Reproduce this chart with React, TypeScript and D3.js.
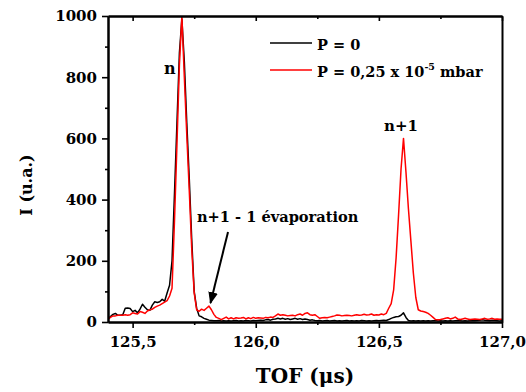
import React, { useEffect, useRef } from "react";
import * as d3 from "d3";

// TOF grid (µs), uniform sampling 125.40 .. 127.00 step 0.01
const tof: number[] = d3.range(0, 161).map((i) => +(125.4 + i * 0.01).toFixed(2));

// P = 0 (black)
const seriesP0: number[] = [
  10, 18, 25, 28, 22, 22, 24, 45, 46, 44,
  34, 38, 30, 42, 58, 48, 40, 38, 55, 66,
  64, 66, 74, 68, 95, 120, 200, 420, 650, 880,
  990, 850, 650, 470, 270, 100, 45, 20, 17, 12,
  9, 6, 5, 4, 4, 5, 3, 4, 3, 4,
  3, 4, 5, 3, 4, 3, 5, 4, 3, 5,
  4, 5, 6, 5, 7, 8, 6, 9, 10, 12,
  10, 12, 9, 11, 8, 10, 12, 9, 11, 8,
  10, 8, 6, 7, 5, 4, 5, 3, 4, 5,
  3, 4, 5, 3, 4, 3, 4, 5, 3, 4,
  3, 4, 3, 5, 4, 3, 4, 3, 4, 5,
  4, 5, 6, 5, 8, 12, 15, 17, 18, 22,
  30, 15, 5, 3, 4, 3, 4, 3, 4, 3,
  4, 3, 4, 5, 3, 4, 3, 4, 3, 4,
  3, 4, 5, 4, 3, 4, 3, 4, 5, 4,
  5, 6, 7, 6, 5, 4, 6, 5, 4, 3,
  4,
];

// P = 0,25 x 10^-5 mbar (red)
const seriesP025: number[] = [
  9, 15, 20, 20, 22, 22, 22, 24, 22, 24,
  30, 28, 26, 34, 32, 28, 36, 40, 42, 48,
  52, 55, 60, 65, 70, 85, 110, 330, 580, 840,
  1000, 800, 610, 430, 240, 95, 40, 35, 42, 38,
  45, 52, 40, 25, 15, 12, 8, 12, 16, 10,
  14, 10, 14, 12, 13, 15, 10, 14, 11, 15,
  12, 14, 13, 12, 15, 14, 16, 15, 20, 26,
  22, 24, 22, 20, 21, 22, 20, 24, 26, 22,
  28, 30, 24, 22, 24, 18, 12, 14, 15, 14,
  16, 18, 20, 23, 22, 20, 21, 22, 21, 20,
  22, 24, 22, 23, 25, 23, 24, 26, 22, 24,
  23, 26, 24, 28, 45, 60, 105, 210, 350, 500,
  600, 490, 370, 265, 160, 80, 40, 36, 34, 32,
  28, 22, 15, 8, 7, 8, 10, 12, 14, 10,
  12, 16, 10, 8, 10, 12, 10, 8, 9, 10,
  9, 8, 10, 12, 9, 10, 12, 9, 10, 9,
  9,
];

const xMajor = [125.5, 126.0, 126.5, 127.0];
const xMinor = [125.75, 126.25, 126.75];
const yMajor = [0, 200, 400, 600, 800, 1000];
const yMinor = [100, 300, 500, 700, 900];

const legendLabels = ["P = 0", "P = 0,25 x 10"];

const FONT = "'DejaVu Serif', serif";

export default function App() {
  const gRef = useRef<SVGGElement>(null);

  const x = d3.scaleLinear().domain([125.4, 127.0]).range([108, 502]);
  const y = d3.scaleLinear().domain([0, 1000]).range([322, 16]);

  const line = d3
    .line<number>()
    .x((_, i) => x(tof[i]))
    .y((d) => y(d));

  useEffect(() => {
    const g = d3.select(gRef.current);
    g.selectAll("*").remove();
    const fmt = (d: d3.NumberValue) => (+d).toFixed(1).replace(".", ",");

    const style = (sel: d3.Selection<SVGGElement, unknown, null, undefined>) => {
      sel.selectAll("path.domain").attr("stroke", "#000").attr("stroke-width", 2);
      sel.selectAll(".tick line").attr("stroke", "#000").attr("stroke-width", 1.6);
      sel
        .selectAll(".tick text")
        .attr("fill", "#000")
        .style("font-family", FONT)
        .style("font-weight", "bold")
        .style("font-size", "15px");
    };

    // bottom
    const b = g.append("g").attr("transform", "translate(0,322)");
    b.call(
      d3.axisBottom(x).tickValues(xMajor).tickSize(6).tickSizeOuter(0).tickPadding(8).tickFormat(fmt)
    );
    style(b as any);
    const bm = g.append("g").attr("transform", "translate(0,322)");
    bm.call(d3.axisBottom(x).tickValues(xMinor).tickSize(3).tickSizeOuter(0).tickFormat(() => ""));
    style(bm as any);

    // top (inward ticks)
    const t = g.append("g").attr("transform", "translate(0,16)");
    t.call(d3.axisTop(x).tickValues(xMajor).tickSize(-5).tickSizeOuter(0).tickFormat(() => ""));
    style(t as any);
    const tm = g.append("g").attr("transform", "translate(0,16)");
    tm.call(d3.axisTop(x).tickValues(xMinor).tickSize(-3).tickSizeOuter(0).tickFormat(() => ""));
    style(tm as any);

    // left
    const l = g.append("g").attr("transform", "translate(108,0)");
    l.call(
      d3.axisLeft(y).tickValues(yMajor).tickSize(6).tickSizeOuter(0).tickPadding(5).tickFormat(d3.format("d"))
    );
    style(l as any);
    const lm = g.append("g").attr("transform", "translate(108,0)");
    lm.call(d3.axisLeft(y).tickValues(yMinor).tickSize(3).tickSizeOuter(0).tickFormat(() => ""));
    style(lm as any);

    // right
    const r = g.append("g").attr("transform", "translate(502,0)");
    r.call(d3.axisRight(y).tickValues([]).tickSize(0).tickSizeOuter(0));
    style(r as any);
  }, []);

  return (
    <svg
      width={526}
      height={392}
      style={{ position: "absolute", left: 0, top: 0, background: "#fff" }}
      fontFamily={FONT}
    >
      <defs>
        <clipPath id="plot">
          <rect x={108} y={16} width={394} height={306} />
        </clipPath>
        <marker id="arr" viewBox="0 0 10 10" refX="9" refY="5" markerWidth="6" markerHeight="6" orient="auto" markerUnits="strokeWidth">
          <path d="M0,1 L10,5 L0,9 Z" fill="#000" />
        </marker>
      </defs>
      <rect x={0} y={0} width={526} height={392} fill="#fff" />
      <g clipPath="url(#plot)">
        <path d={line(seriesP0) || ""} fill="none" stroke="#000" strokeWidth={1.5} strokeLinejoin="round" />
        <path d={line(seriesP025) || ""} fill="none" stroke="#ff0000" strokeWidth={1.5} strokeLinejoin="round" />
      </g>
      <g ref={gRef} />

      {/* legend */}
      <line x1={270} x2={312} y1={43} y2={43} stroke="#000" strokeWidth={1.5} />
      <text x={317} y={50} fontSize={14.5} fontWeight="bold">{legendLabels[0]}</text>
      <line x1={270} x2={312} y1={70} y2={70} stroke="#ff0000" strokeWidth={1.5} />
      <text x={317} y={77} fontSize={14.5} fontWeight="bold">
        {legendLabels[1]}
        <tspan fontSize={9.5} dy={-7}>-5</tspan>
        <tspan dy={7}> mbar</tspan>
      </text>

      {/* annotations */}
      <text x={164} y={74} fontSize={16} fontWeight="bold">n</text>
      <text x={384} y={131} fontSize={15} fontWeight="bold">n+1</text>
      <text x={197} y={222} fontSize={14.6} fontWeight="bold">n+1 - 1 évaporation</text>
      <line x1={228} y1={232} x2={210.5} y2={303} stroke="#000" strokeWidth={2} markerEnd="url(#arr)" />

      {/* axis titles */}
      <text x={305} y={383} fontSize={20} fontWeight="bold" textAnchor="middle">TOF (μs)</text>
      <text transform="translate(32,185) rotate(-90)" fontSize={16} fontWeight="bold" textAnchor="middle">I (u.a.)</text>
    </svg>
  );
}
